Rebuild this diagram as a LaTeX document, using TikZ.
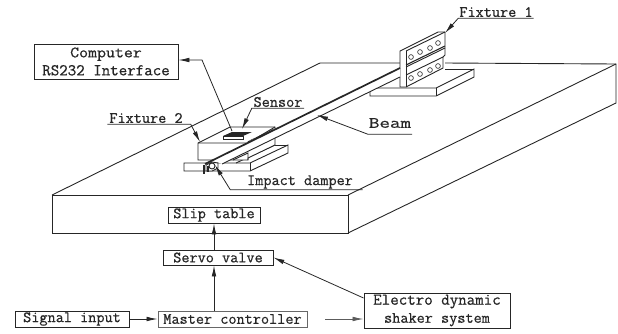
\documentclass[tikz,border=0pt]{standalone}
\usepackage{fontspec}
\usetikzlibrary{arrows.meta}
\newfontfamily\labfont[RawFeature={embolden=0.6}]{Latin Modern Mono}
\definecolor{ink}{gray}{0.15}
\tikzset{
  x=1pt,y=-1pt,
  line/.style={draw=ink,line width=0.9pt,line join=miter},
  part/.style={line,fill=white},
  lead/.style={draw=ink,line width=0.8pt,-{Latex[length=11pt,width=4.6pt]}},
  boxed/.style={draw=ink,line width=0.9pt,fill=white,inner sep=0pt,align=center,text=ink,font=\labfont\fontsize{15.8}{18}\selectfont},
  tag/.style={inner sep=0pt,font=\labfont\fontsize{15.8}{18}\selectfont,text=ink},
  hole/.style={draw=ink,line width=0.6pt,fill=white},
}
\begin{document}
\begin{tikzpicture}
\useasboundingbox (0,0) rectangle (618,333);
% table
\draw[line] (52,195) -- (320,63) -- (400,63);
\draw[line] (445,63) -- (616,64) -- (616,103) -- (348,233);
\draw[line] (616,64) -- (348,195);
\draw[line] (52,195) rectangle (348,233);
% fixture 1 base
\draw[part] (370,88) -- (436,88) -- (474,69) -- (474,77) -- (436,96) -- (370,96) -- cycle;
\draw[line] (436,88) -- (436,96);
\draw[line] (445,69) -- (474,69);
% fixture 1 upright
\draw[part] (400,87) -- (400,51) -- (438,32) -- (445,32) -- (445,55) -- (443,57) -- (443,68) -- (406,87) -- cycle;
\draw[line] (406,51) -- (445,32);
\draw[line] (406,51) -- (406,87);
\draw[line] (406,67) -- (445,48);
\draw[line] (406,75) -- (443,57);
\foreach \hx/\hy in {411/57,420/52,430/48,438/43,411/78,420/74,430/70,438/66}
  \draw[hole] (\hx,\hy) circle (2.4);
% fixture 2 base
\draw[part] (184,163) -- (250,163) -- (288,145) -- (288,153) -- (250,171) -- (184,171) -- cycle;
\draw[line] (250,163) -- (250,171);
\draw[line] (275,145) -- (288,145);
\draw[line] (236,163) -- (275,145);
% fixture 2 block
\draw[part] (198,160) -- (198,143) -- (230,127) -- (275,127) -- (275,145) -- (248,158) -- (248,160) -- cycle;
\draw[line] (198,143) -- (248,143) -- (275,127);
\draw[line] (233,160) -- (248,153) -- (248,160);
% beam
\draw[draw=none,fill=white] (213,160) -- (400,68) -- (400,77) -- (222,164) -- cycle;
\draw[draw=ink,line width=1.7pt] (205,164) -- (400,68);
\draw[line] (222,164) -- (400,77);
\draw[draw=ink,line width=1.1pt] (406,65) -- (445,46);
% damper
\draw[part] (206,165) -- (212,162) -- (218,163) -- (218,168) -- (212,171) -- (206,171) -- cycle;
\draw[line] (212,166) circle (3);
\draw[draw=ink,line width=1.2pt] (204,165) -- (204,174);
\draw[draw=ink,line width=1.2pt] (208,166) -- (208,172);
% sensor
\draw[part] (223,136) -- (243,136) -- (243,139) -- (223,139) -- cycle;
\fill[ink] (223,136) -- (232,132) -- (252,132) -- (243,136) -- cycle;
\draw[draw=ink,line width=1.6pt,dash pattern=on 1.2pt off 0.6pt] (248,142) -- (273,130);
% target points
\coordinate (tFixOne) at (445,33);
\coordinate (tFixTwo) at (200,142);
\coordinate (tSensor) at (242,129);
\coordinate (tBeam) at (317,115);
\coordinate (tDamper) at (215,165);
\coordinate (sCable) at (232,131);
\coordinate (bendCable) at (202,60);
\coordinate (sShaker) at (325,319);
% boxes
\node[boxed,minimum width=144pt,minimum height=35pt] (computer) at (106,61.5) {\scalebox{1.1}[1]{Computer}\\\fontsize{16.5}{18}\selectfont RS232 Interface};
\node[boxed,minimum width=92pt,minimum height=16pt] (slip) at (214,215) {Slip table};
\node[boxed,minimum width=110pt,minimum height=15pt] (servo) at (218,257.5) {Servo valve};
\node[boxed,minimum width=149pt,minimum height=16pt,draw=ink!70] (master) at (232.5,319) {Master controller};
\node[boxed,minimum width=114pt,minimum height=16pt] (signal) at (72,319) {Signal input};
\node[boxed,minimum width=146pt,minimum height=35pt] (shaker) at (437,310.5) {\fontsize{16.5}{18}\selectfont Electro dynamic\\shaker system};
% labels
\node[tag,minimum width=75pt,minimum height=12pt] (lFixOne) at (496,12) {Fixture 1};
\node[tag,minimum width=77pt,minimum height=12pt] (lFixTwo) at (146,118) {Fixture 2};
\node[tag,minimum width=52pt,minimum height=12pt] (lSensor) at (278,102) {Sensor};
\node[tag,minimum width=44pt,minimum height=12pt] (lBeam) at (390,123) {\scalebox{1.3}[1]{Beam}};
\node[tag,minimum width=125pt,minimum height=12pt] (lDamper) at (300,182) {Impact damper};
% leaders
\draw[lead] (lFixOne.south east) -- (lFixOne.south west) -- (tFixOne);
\draw[lead] (lFixTwo.south west) -- ([xshift=6pt]lFixTwo.south east) -- (tFixTwo);
\draw[lead] (lSensor.south east) -- (lSensor.south west) -- (tSensor);
\draw[lead] ([yshift=-5pt]lBeam.south east) -- ([yshift=-5pt]lBeam.south west) -- (tBeam);
\draw[lead] ([yshift=-1pt]lDamper.south east) -- ([xshift=-7pt,yshift=-1pt]lDamper.south west) -- (tDamper);
\draw[lead] (sCable) -- (bendCable) -- (computer.east |- bendCable);
% connectors
\draw[lead] (servo.north -| slip) -- (slip.south);
\draw[lead] (master.north -| slip) -- (servo.south -| slip);
\draw[lead] (signal.east) -- (master.west);
\draw[lead] (shaker.west |- 0,298) -- (servo.east);
\draw[lead,draw=ink!75] (sShaker) -- (shaker.west |- sShaker);
\end{tikzpicture}
\end{document}
